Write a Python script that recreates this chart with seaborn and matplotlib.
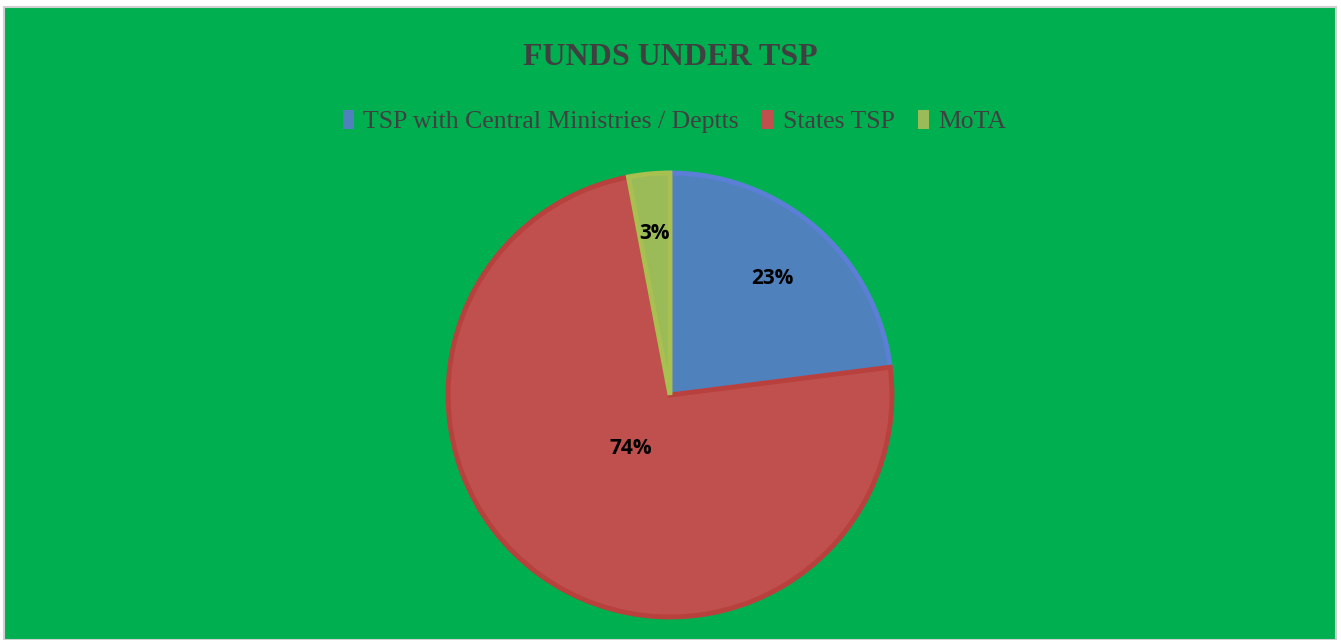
import numpy as np
import seaborn as sns
import matplotlib.pyplot as plt
from matplotlib.patches import Rectangle

# Data
categories = ['TSP with Central Ministries / Deptts', 'States TSP', 'MoTA']
shares = [23, 74, 3]

# Excel-like palette
colors = sns.color_palette(['#4F81BD', '#C0504D', '#9BBB59'])
edge_colors = ['#5B7FD6', '#B8403D', '#A8C050']
label_dist = [0.70, 0.30, 0.73]

sns.set_style('white')
plt.rcParams['font.family'] = ['Liberation Serif', 'DejaVu Serif']

fig = plt.figure(figsize=(13.41, 6.4), dpi=100)
fig.patch.set_facecolor('white')

# green chart area with thin grey border
fig.patches.append(Rectangle((4 / 1341, 0), 1332 / 1341, 633 / 640,
                             transform=fig.transFigure, facecolor='#00B050',
                             edgecolor='#D0D0D0', linewidth=1.5, zorder=-10))

ax = fig.add_axes([448 / 1341, 23 / 640, 444 / 1341, 444 / 640])
ax.set_facecolor('none')

wedges, _, autotexts = ax.pie(
    shares, colors=colors, startangle=90, counterclock=False,
    autopct='%1.0f%%',
    wedgeprops=dict(linewidth=3.5),
    textprops=dict(fontsize=15, fontweight='bold', color='black',
                   family=['Open Sans', 'DejaVu Sans']))

for w, ec, t, d in zip(wedges, edge_colors, autotexts, label_dist):
    w.set_edgecolor(ec)
    w.set_clip_on(False)
    ang = np.deg2rad((w.theta1 + w.theta2) / 2)
    t.set_position((d * np.cos(ang), d * np.sin(ang)))

ax.set_xlim(-1, 1)
ax.set_ylim(-1, 1)
ax.set_aspect('equal')
ax.axis('off')

fig.text(0.5, 0.91, 'FUNDS UNDER TSP', ha='center', va='center',
         fontsize=23, fontweight='bold', color='#404040')

leg = fig.legend(wedges, categories, loc='center', bbox_to_anchor=(0.503, 0.81),
                 ncol=3, frameon=False, fontsize=18.5, labelcolor='#404040',
                 handlelength=0.45, handleheight=0.75, handletextpad=0.35,
                 columnspacing=0.9)
for h in leg.legend_handles:
    h.set_linewidth(0)

fig.savefig('out.png', dpi=100)
